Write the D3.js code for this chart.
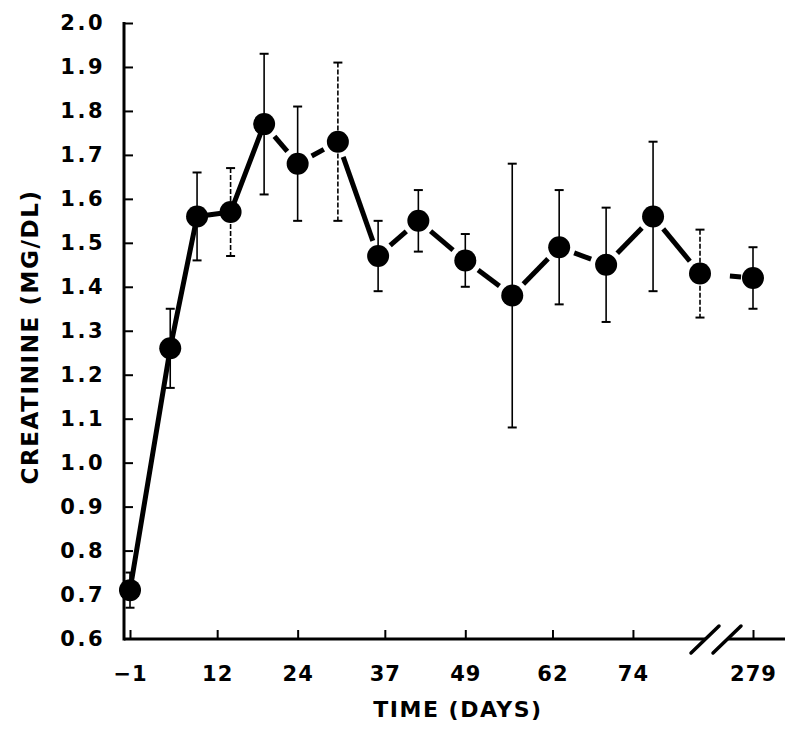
<!DOCTYPE html>
<html>
<head>
<meta charset="utf-8">
<script src="https://cdn.jsdelivr.net/npm/d3@7"></script>
<style>
  body { margin: 0; background: #fff; }
  text { font-family: 'DejaVu Sans', sans-serif; font-weight: bold; fill: #000; }
</style>
</head>
<body>
<div id="canvas"></div>
<script>
const days = [-1, 5, 9, 14, 19, 24, 30, 36, 42, 49, 56, 63, 70, 77, 84, 279];
const creatinine = [0.71, 1.26, 1.56, 1.57, 1.77, 1.68, 1.73, 1.47, 1.55, 1.46, 1.38, 1.49, 1.45, 1.56, 1.43, 1.42];
const sem = [0.04, 0.09, 0.10, 0.10, 0.16, 0.13, 0.18, 0.08, 0.07, 0.06, 0.30, 0.13, 0.13, 0.17, 0.10, 0.07];
const xTicks = [-1, 12, 24, 37, 49, 62, 74, 279];
const yTicks = [0.6, 0.7, 0.8, 0.9, 1.0, 1.1, 1.2, 1.3, 1.4, 1.5, 1.6, 1.7, 1.8, 1.9, 2.0];

const w = 800;
const h = 739;
const axisX = 124;
const axisY = 639;

const xScale = d3.scaleLinear()
                  .domain([-1, 84, 279])
                  .range([130, 700, 753]);

const yScale = d3.scaleLinear()
                  .domain([0.6, 2.0])
                  .range([638.5, 23]);

const svg = d3.select('#canvas')
              .append('svg')
              .attr('width', w)
              .attr('height', h);

// y axis (ticks pointing inward)
const yAxis = d3.axisLeft(yScale)
                .tickValues(yTicks)
                .tickSize(-9)
                .tickPadding(19)
                .tickFormat(d3.format('.1f'));

const gy = svg.append('g')
              .attr('transform', 'translate(' + axisX + ', 0)')
              .call(yAxis);
gy.select('.domain').remove();
gy.selectAll('.tick line').attr('stroke', '#000').attr('stroke-width', 2);
gy.selectAll('.tick text')
  .style('font-size', '21px')
  .style('letter-spacing', '2.5px')
  .style('font-family', "'DejaVu Sans', sans-serif")
  .style('font-weight', 'bold');

svg.append('line')
    .attr('x1', axisX).attr('x2', axisX)
    .attr('y1', yScale(2.0) - 1).attr('y2', axisY + 1.5)
    .attr('stroke', '#000')
    .attr('stroke-width', 3);

// x axis
const xAxis = d3.axisBottom(xScale)
                .tickValues(xTicks)
                .tickSize(-9)
                .tickPadding(27)
                .tickFormat(d3.format('d'));

const gx = svg.append('g')
              .attr('transform', 'translate(0, ' + axisY + ')')
              .call(xAxis);
gx.select('.domain').remove();
gx.selectAll('.tick line').attr('stroke', '#000').attr('stroke-width', 2);
gx.selectAll('.tick text')
  .style('font-size', '21px')
  .style('letter-spacing', '1px')
  .style('font-family', "'DejaVu Sans', sans-serif")
  .style('font-weight', 'bold');

// axis line with break marks
const breakX = xScale(84) + 16;
svg.append('line')
    .attr('x1', axisX).attr('x2', breakX - 11)
    .attr('y1', axisY).attr('y2', axisY)
    .attr('stroke', '#000').attr('stroke-width', 3);
svg.append('line')
    .attr('x1', breakX + 11).attr('x2', 785)
    .attr('y1', axisY).attr('y2', axisY)
    .attr('stroke', '#000').attr('stroke-width', 3);
[-11, 11].forEach(off => {
  svg.append('line')
      .attr('x1', breakX + off - 14).attr('y1', axisY + 14)
      .attr('x2', breakX + off + 14).attr('y2', axisY - 13)
      .attr('stroke', '#000')
      .attr('stroke-width', 3.5)
      .attr('stroke-linecap', 'round');
});

// axis titles
svg.append('text')
    .attr('transform', 'translate(458, 717)')
    .style('text-anchor', 'middle')
    .style('font-size', '22px')
    .style('letter-spacing', '1.5px')
    .text('TIME (DAYS)');

svg.append('text')
    .attr('transform', 'translate(38, 337) rotate(-90)')
    .style('text-anchor', 'middle')
    .style('font-size', '23px')
    .style('letter-spacing', '1.6px')
    .text('CREATININE (MG/DL)');

// error bars
const dotted = [3, 6, 14];
const bars = svg.append('g');
days.forEach((d, i) => {
  const x = xScale(d);
  const y1 = yScale(creatinine[i] + sem[i]);
  const y2 = yScale(creatinine[i] - sem[i]);
  bars.append('line')
      .attr('x1', x).attr('x2', x)
      .attr('y1', y1).attr('y2', y2)
      .attr('stroke', '#000')
      .attr('stroke-width', 1.6)
      .attr('stroke-dasharray', dotted.includes(i) ? '5,2' : null);
  [y1, y2].forEach(yy => {
    bars.append('line')
        .attr('x1', x - 4.5).attr('x2', x + 4.5)
        .attr('y1', yy).attr('y2', yy)
        .attr('stroke', '#000')
        .attr('stroke-width', 2);
  });
});

// connecting segments (stop short of the markers after day 19)
const segs = svg.append('g');
for (let i = 0; i < days.length - 1; i++) {
  const xa = xScale(days[i]), ya = yScale(creatinine[i]);
  const xb = xScale(days[i + 1]), yb = yScale(creatinine[i + 1]);
  const len = Math.hypot(xb - xa, yb - ya);
  const ux = (xb - xa) / len, uy = (yb - ya) / len;
  const joined = i < 4;
  let g0 = joined ? 0 : 16;
  let g1 = joined ? 0 : 16;
  if (i === days.length - 2) { g0 = 30; g1 = 12; }
  segs.append('line')
      .attr('x1', xa + ux * g0).attr('y1', ya + uy * g0)
      .attr('x2', xb - ux * g1).attr('y2', yb - uy * g1)
      .attr('stroke', '#000')
      .attr('stroke-width', 5)
      .attr('stroke-linecap', joined ? 'round' : 'butt');
}

// markers
svg.selectAll('circle')
    .data(days)
    .enter()
    .append('circle')
    .attr('cx', d => xScale(d))
    .attr('cy', (d, i) => yScale(creatinine[i]))
    .attr('r', 11)
    .attr('fill', '#000');
</script>
</body>
</html>
